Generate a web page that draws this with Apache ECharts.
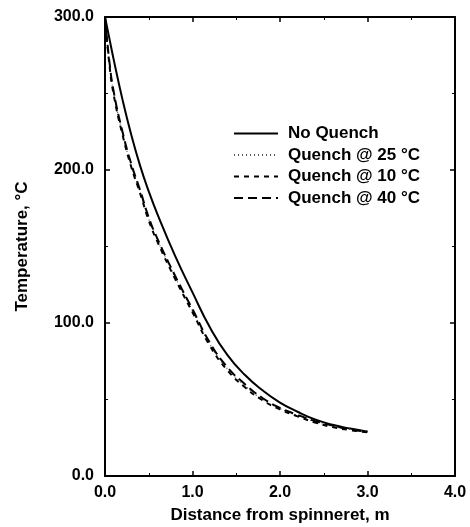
<!DOCTYPE html>
<html>
<head>
<meta charset="utf-8">
<script src="https://cdn.jsdelivr.net/npm/echarts@6/dist/echarts.min.js"></script>
<style>
html,body{margin:0;padding:0;background:#fff;}
#chart{width:470px;height:527px;}
</style>
</head>
<body>
<div id="chart"></div>
<script>
const seriesNames = ["No Quench", "Quench @ 25 °C", "Quench @ 10 °C", "Quench @ 40 °C"];
const distance = [0, 0.05, 0.1, 0.2, 0.3, 0.4, 0.5, 0.6, 0.8, 1.0, 1.2, 1.4, 1.6, 1.8, 2.0, 2.2, 2.4, 2.6, 2.8, 3.0];
const noQuench = [300, 286, 272, 246, 223, 203, 186, 171, 144, 120, 97, 79, 66, 56, 48, 42, 37, 33.5, 31, 29];
const quench25 = [300, 270, 250, 224, 203, 186, 168, 154, 130, 108, 86, 70, 59, 50, 44, 39.5, 35.5, 32.5, 30.5, 29];
const quench10 = [300, 269, 249, 223, 202, 185, 167, 153, 129, 107, 85, 69, 58, 49.5, 43.5, 39, 35, 32, 30, 28.5];
const quench40 = [300, 271, 251, 225, 204, 187, 169, 155, 131, 109, 87, 71, 60, 51, 44.5, 40, 36, 33, 30.5, 29];
const xTicks = [0, 1, 2, 3, 4];
const yTicks = [0, 100, 200, 300];

function pairs(xs, ys){ return xs.map((x,i)=>[x, ys[i]]); }

const font = "'Liberation Sans', Arial, sans-serif";
const chart = echarts.init(document.getElementById('chart'));
function axisCommon(){
  return {
    axisLine: {show: true, onZero: false, lineStyle: {color: '#000', width: 2}},
    axisTick: {show: true, inside: true, length: 5, lineStyle: {color: '#000', width: 1.5}},
    minorTick: {show: true, splitNumber: 2, length: 3, lineStyle: {color: '#000', width: 1}},
    splitLine: {show: false}
  };
}
chart.setOption({
  animation: false,
  backgroundColor: '#fff',
  grid: {left: 105, right: 15, top: 17, bottom: 51, containLabel: false, outerBoundsMode: 'none'},
  legend: {
    orient: 'vertical', left: 228, top: 120,
    itemWidth: 44, itemHeight: 14, itemGap: 4.5,
    data: seriesNames,
    itemStyle: {opacity: 0},
    textStyle: {fontFamily: font, fontWeight: 'bold', fontSize: 17, color: '#000', padding: [0,0,0,5]}
  },
  xAxis: [
    Object.assign(axisCommon(), {
      type: 'value', min: 0, max: 4, interval: 1, position: 'bottom',
      name: 'Distance from spinneret, m', nameLocation: 'middle', nameGap: 31,
      nameTextStyle: {fontFamily: font, fontWeight: 'bold', fontSize: 17, color: '#000'},
      axisLabel: {fontFamily: font, fontWeight: 'bold', fontSize: 16, color: '#000', margin: 9,
        formatter: v => xTicks.includes(v) ? v.toFixed(1) : ''}
    }),
    Object.assign(axisCommon(), {
      type: 'value', min: 0, max: 4, interval: 1, position: 'top',
      axisLabel: {show: false}
    })
  ],
  yAxis: [
    Object.assign(axisCommon(), {
      type: 'value', min: 0, max: 300, interval: 100, position: 'left',
      name: 'Temperature, °C', nameLocation: 'middle', nameGap: 74, nameRotate: 90,
      nameTextStyle: {fontFamily: font, fontWeight: 'bold', fontSize: 17, color: '#000'},
      axisLabel: {fontFamily: font, fontWeight: 'bold', fontSize: 16, color: '#000', margin: 11,
        formatter: v => yTicks.includes(v) ? v.toFixed(1) : ''}
    }),
    Object.assign(axisCommon(), {
      type: 'value', min: 0, max: 300, interval: 100, position: 'right',
      axisLabel: {show: false}
    })
  ],
  series: [
    {name: seriesNames[0], type: 'line', symbol: 'none', smooth: true, data: pairs(distance, noQuench),
      lineStyle: {color: '#000', width: 2, type: 'solid'}, itemStyle: {color: '#000'}},
    {name: seriesNames[1], type: 'line', symbol: 'none', smooth: true, data: pairs(distance, quench25),
      lineStyle: {color: '#555', width: 1.2, type: [1, 3]}, itemStyle: {color: '#555'}},
    {name: seriesNames[2], type: 'line', symbol: 'none', smooth: true, data: pairs(distance, quench10),
      lineStyle: {color: '#000', width: 2, type: [5, 5]}, itemStyle: {color: '#000'}},
    {name: seriesNames[3], type: 'line', symbol: 'none', smooth: true, data: pairs(distance, quench40),
      lineStyle: {color: '#000', width: 2, type: [9, 5]}, itemStyle: {color: '#000'}}
  ]
});
</script>
</body>
</html>
